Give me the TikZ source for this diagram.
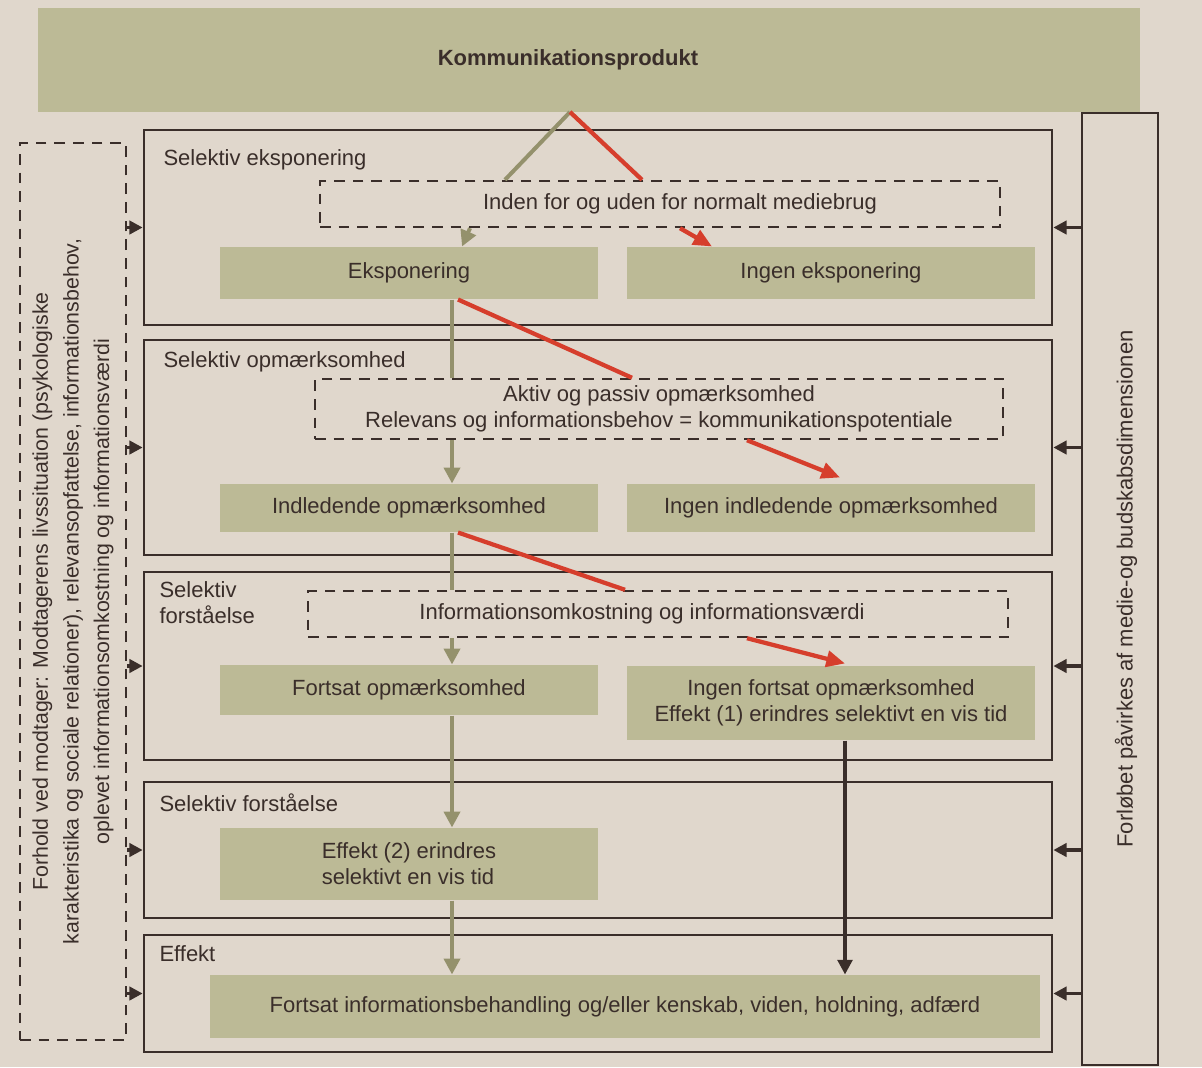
\documentclass[tikz,border=0pt]{standalone}
\usepackage{fontspec}
\setmainfont{Liberation Sans}
\usetikzlibrary{arrows.meta,calc}

\definecolor{paper}{RGB}{224,215,204}
\definecolor{olive}{RGB}{188,186,150}
\definecolor{ink}{RGB}{58,46,42}
\definecolor{passgrey}{RGB}{148,145,108}
\definecolor{failred}{RGB}{214,62,44}

\tikzset{every picture/.style={line width=0.75pt}}

\begin{document}
\begin{tikzpicture}[x=0.75pt,y=0.75pt,yscale=-1,xscale=1,
  font=\fontsize{16.5}{19.5}\selectfont,
  stagebox/.style={draw=ink, line width=2pt, inner sep=0pt},
  filterbox/.style={draw=ink, line width=1.8pt, dash pattern=on 8pt off 6pt, inner sep=0pt, align=center, text=ink},
  resultbox/.style={fill=olive, inner sep=0pt, align=center, text=ink},
  stagetitle/.style={anchor=north west, inner sep=0.75pt, align=left, text=ink},
  passline/.style={draw=passgrey, line width=3pt},
  passarrow/.style={passline, -{Triangle[length=12pt,width=12pt]}},
  failline/.style={draw=failred, line width=3.2pt},
  failarrow/.style={failline, -{Triangle[length=14pt,width=12pt]}},
  inkarrow/.style={draw=ink, line width=2.6pt, -{Triangle[length=11pt,width=11pt]}},
  sidearrow/.style={draw=ink, line width=2.6pt, -{Triangle[length=10pt,width=10pt]}}
]
\useasboundingbox (0,0) rectangle (1202,1067);
\fill[paper] (0,0) rectangle (1202,1067);

%Banner
\node[resultbox, minimum width=826.5pt, minimum height=78pt] (banner) at (589,60) {};
\node[text=ink, inner sep=0.75pt, font=\fontsize{16.5}{19.5}\selectfont\bfseries] (bannertxt) at (568,60) {Kommunikationsprodukt};
\coordinate (kp) at (570,112);
\coordinate (gx) at (452,0);
\coordinate (dx) at (845,0);

%Side panels
\node[draw=ink, line width=1.8pt, dash pattern=on 8pt off 6pt, minimum width=79.5pt, minimum height=672.75pt] (L) at (73,591.5) {};
\node[rotate=90, align=center, text=ink, font=\fontsize{16}{23}\selectfont] (Ltxt) at (L.center) {Forhold ved modtager: Modtagerens livssituation (psykologiske\\karakteristika og sociale relationer), relevansopfattelse, informationsbehov,\\oplevet informationsomkostning og informationsværdi};
\node[stagebox, minimum width=57pt, minimum height=714pt] (P) at (1120,589) {};
\node[rotate=90, text=ink] (Ptxt) at ($(P.center)+(6,0)$) {Forløbet påvirkes af medie-og budskabsdimensionen};

%Stages
\node[stagebox, minimum width=681pt, minimum height=146.25pt] (sel1) at (598,227.5) {};
\node[stagebox, minimum width=681pt, minimum height=161.25pt] (sel2) at (598,447.5) {};
\node[stagebox, minimum width=681pt, minimum height=141pt] (sel3) at (598,666) {};
\node[stagebox, minimum width=681pt, minimum height=102pt] (sel4) at (598,850) {};
\node[stagebox, minimum width=681pt, minimum height=87.75pt] (sel5) at (598,993.5) {};

% Text Node
\node[stagetitle] (T1) at (162,148) {Selektiv eksponering};
\node[stagetitle] (T2) at (162,350) {Selektiv opmærksomhed};
\node[stagetitle] (T3) at (158,580) {Selektiv\\forståelse};
\node[stagetitle] (T4) at (158,792) {Selektiv forståelse};
\node[stagetitle] (T5) at (158,944) {Effekt};

%Dashed filters
\node[filterbox, minimum width=510pt, minimum height=34.5pt] (D1) at (660,204) {\hspace*{30pt}Inden for og uden for normalt mediebrug};
\node[filterbox, minimum width=516pt, minimum height=45pt] (D2) at (659,409) {Aktiv og passiv opmærksomhed\\Relevans og informationsbehov = kommunikationspotentiale};
\node[filterbox, minimum width=525pt, minimum height=34.5pt] (D3) at (658,614) {Informationsomkostning og informationsværdi\hspace*{24pt}};

%Results
\node[resultbox, minimum width=283.5pt, minimum height=39pt] (E1) at (409,273) {Eksponering};
\node[resultbox, minimum width=306pt, minimum height=39pt] (N1) at (831,273) {Ingen eksponering};
\node[resultbox, minimum width=283.5pt, minimum height=36pt] (I1) at (409,508) {Indledende opmærksomhed};
\node[resultbox, minimum width=306pt, minimum height=36pt] (N2) at (831,508) {Ingen indledende opmærksomhed};
\node[resultbox, minimum width=283.5pt, minimum height=37.5pt] (F1) at (409,690) {Fortsat opmærksomhed};
\node[resultbox, minimum width=306pt, minimum height=55.5pt] (N3) at (831,703) {Ingen fortsat opmærksomhed\\Effekt (1) erindres selektivt en vis tid};
\node[resultbox, minimum width=283.5pt, minimum height=54pt, align=left] (E2) at (409,864) {Effekt (2) erindres\\selektivt en vis tid};
\node[resultbox, minimum width=622.5pt, minimum height=47.25pt] (R) at (625,1006.5) {Fortsat informationsbehandling og/eller kenskab, viden, holdning, adfærd};

%Exposure
\draw[passline] (kp) -- ($(D1.north)+(-155,0)$);
\draw[passarrow] ($(D1.south)+(-190,0)$) -- ($(E1.north)+(53,0)$);
\draw[failline] (kp) -- ($(D1.north)+(-18,0)$);
\draw[failarrow] ($(D1.south)+(20,0)$) -- ($(N1.north)+(-119,0)$);
%Attention
\draw[passline] (E1.south -| gx) -- (D2.north -| gx);
\draw[passarrow] (D2.south -| gx) -- (I1.north -| gx);
\draw[failline] ($(E1.south -| gx)+(6,0)$) -- ($(D2.north)+(-27,0)$);
\draw[failarrow] ($(D2.south)+(88,0)$) -- ($(N2.north)+(9,-6)$);
%Comprehension
\draw[passline] (I1.south -| gx) -- (D3.north -| gx);
\draw[passarrow] (D3.south -| gx) -- (F1.north -| gx);
\draw[failline] ($(I1.south -| gx)+(6,0)$) -- ($(D3.north)+(-33,0)$);
\draw[failarrow] ($(D3.south)+(89,0)$) -- ($(N3.north)+(14,-2)$);
%Effects
\draw[passarrow] (F1.south -| gx) -- (E2.north -| gx);
\draw[passarrow] (E2.south -| gx) -- (R.north -| gx);
\draw[inkarrow] (N3.south -| dx) -- (R.north -| dx);

%Side influences
\foreach \s in {sel1,sel2,sel3,sel4,sel5}{
  \draw[sidearrow] (\s.west -| L.east) -- (\s.west);
  \draw[sidearrow] (\s.east -| P.west) -- (\s.east);
}

\end{tikzpicture}
\end{document}
